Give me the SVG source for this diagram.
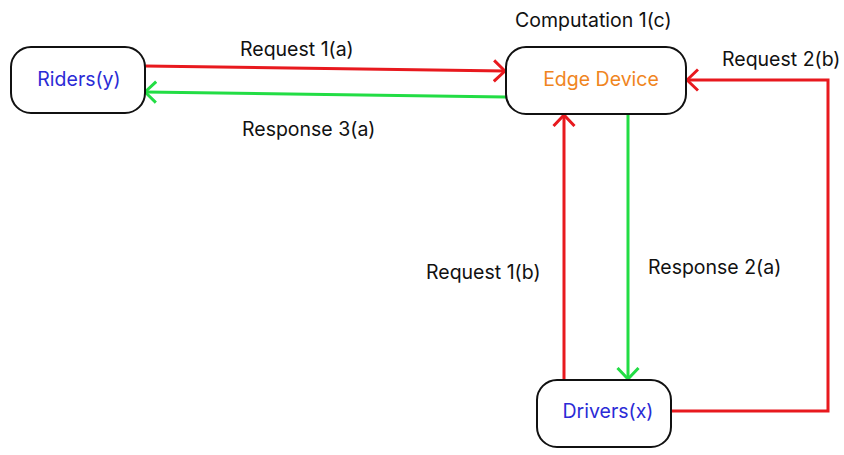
<svg xmlns="http://www.w3.org/2000/svg" width="844" height="455" viewBox="0 0 844 455">
<defs>
<style>
.node{fill:#fff;stroke:#111;stroke-width:2}
.lbl{font-family:Inter,"Liberation Sans",sans-serif;font-size:19.5px;fill:#111}
.nl{font-family:Inter,"Liberation Sans",sans-serif;font-size:19.5px;text-anchor:middle}
.red{fill:none;stroke:#e8191e;stroke-width:3}
.green{fill:none;stroke:#22dd44;stroke-width:3}
</style>
<marker id="ar" viewBox="0 0 13 24" refX="12" refY="12" markerWidth="13" markerHeight="24" markerUnits="userSpaceOnUse" orient="auto">
<path d="M1,1.5 L12,12 L1,22.5" fill="none" stroke="#e8191e" stroke-width="3"/>
</marker>
<marker id="ag" viewBox="0 0 13 24" refX="12" refY="12" markerWidth="13" markerHeight="24" markerUnits="userSpaceOnUse" orient="auto">
<path d="M1,1.5 L12,12 L1,22.5" fill="none" stroke="#22dd44" stroke-width="3"/>
</marker>
</defs>
<rect width="844" height="455" fill="#fff"/>
<g id="connectors">
<path class="red" d="M145,66 L505,71" marker-end="url(#ar)"/>
<path class="green" d="M506,97 L145,92" marker-end="url(#ag)"/>
<path class="red" d="M671,411 L828,411 L828,80 L687,80" marker-end="url(#ar)"/>
<path class="red" d="M564,380 L564,115" marker-end="url(#ar)"/>
<path class="green" d="M628,114 L628,379" marker-end="url(#ag)"/>
</g>
<g id="riders">
<rect class="node" x="11" y="47" width="134" height="66" rx="20"/>
<text class="nl" x="79" y="86" fill="#2b2bd6">Riders(y)</text>
</g>
<g id="edge-device">
<rect class="node" x="506" y="47" width="180" height="67" rx="20"/>
<text class="nl" x="601" y="86" fill="#f0851e">Edge Device</text>
</g>
<g id="drivers">
<rect class="node" x="537" y="380" width="134" height="67" rx="20"/>
<text class="nl" x="608" y="417.5" fill="#2b2bd6">Drivers(x)</text>
</g>
<g id="labels">
<text class="lbl" x="515" y="27">Computation 1(c)</text>
<text class="lbl" x="240" y="56">Request 1(a)</text>
<text class="lbl" x="242" y="136">Response 3(a)</text>
<text class="lbl" x="722" y="66">Request 2(b)</text>
<text class="lbl" x="426" y="279">Request 1(b)</text>
<text class="lbl" x="648" y="273.5">Response 2(a)</text>
</g>
</svg>
